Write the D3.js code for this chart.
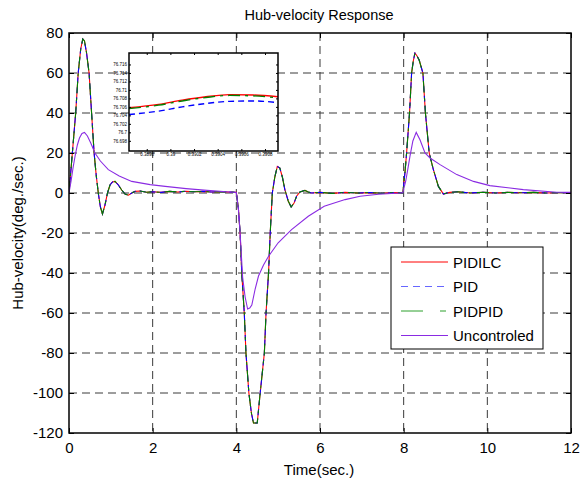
<!DOCTYPE html>
<html>
<head>
<meta charset="utf-8">
<script src="https://cdn.jsdelivr.net/npm/d3@7"></script>
<style>
  body { margin: 0; background: #fff; }
  svg { font-family: "Liberation Sans", Arial, sans-serif; }
  .tick text { font-size: 15px; fill: #000; }
  .inset .tick text { font-size: 4.5px; }
</style>
</head>
<body>
<div class="chart"></div>
<script>
// --- Data ---
const xTicks = [0, 2, 4, 6, 8, 10, 12];
const yTicks = [80, 60, 40, 20, 0, -20, -40, -60, -80, -100, -120];

// controlled responses (PIDILC, PID, PIDPID overlap in the main view)
const ctlT = [0, 0.04, 0.08, 0.12, 0.16, 0.22, 0.28, 0.33, 0.37, 0.42, 0.48, 0.54, 0.60, 0.65, 0.70, 0.75, 0.80, 0.86, 0.92, 0.98,
  1.04, 1.10, 1.18, 1.26, 1.34, 1.42, 1.50, 1.58, 1.70, 1.85, 2.0, 2.2, 2.4, 2.6, 2.8, 3.0, 3.2, 3.4, 3.6, 3.8,
  4.0, 4.05, 4.09, 4.13, 4.19, 4.23, 4.30, 4.36, 4.41, 4.50, 4.57, 4.62, 4.67, 4.71, 4.77, 4.81, 4.86, 4.92, 4.98, 5.04,
  5.10, 5.16, 5.24, 5.31, 5.38, 5.44, 5.52, 5.64, 5.72, 5.8, 6.0, 6.3, 6.6, 6.9, 7.2, 7.5, 7.8, 7.98, 8.03, 8.07,
  8.14, 8.19, 8.23, 8.27, 8.32, 8.37, 8.46, 8.52, 8.61, 8.71, 8.83, 8.95, 9.1, 9.3, 9.6, 9.9, 10.2, 10.5, 10.8, 11.1,
  11.4, 11.7, 12];
const pidilcV = [0, 10, 20, 30, 40, 60, 72, 77, 76, 70, 60, 40, 20, 9, 0, -7, -10.5, -6, 0, 4,
  5.5, 5.8, 4, 1.5, -0.5, -1.1, 0, 0.8, 1, 0.4, 0.6, 0.3, 0.8, 0.5, 0.9, 0.6, 0.8, 0.5, 0.7, 0.5,
  0.3, -8, -20, -40, -60, -80, -100, -110, -115, -115, -100, -90, -80, -60, -40, -20, 0, 8, 13.3, 12.5,
  8, 1.7, -4, -7, -5, -1.6, 0.5, 1.3, 0.5, 0, 0.3, -0.2, 0.3, 0, 0.2, -0.1, 0.2, 0, 10, 20,
  40, 60, 66, 70, 68.5, 66.5, 60, 40, 20, 11.7, 3.3, -0.5, 0.3, 0.6, 0, 0.4, 0, 0.3, 0.1, 0.3,
  0, 0.2, 0.1];
const pidV = pidilcV;
const pidpidV = pidilcV;

const uncT = [0, 0.05, 0.10, 0.15, 0.20, 0.25, 0.31, 0.37, 0.44, 0.52, 0.62, 0.75, 0.94, 1.2, 1.5, 1.94, 2.3, 2.8, 3.3, 3.92,
  4.0, 4.05, 4.09, 4.15, 4.21, 4.27, 4.32, 4.37, 4.45, 4.53, 4.65, 4.77, 5.0, 5.32, 5.72, 6.1, 6.6, 6.96, 7.4, 7.91,
  7.98, 8.05, 8.10, 8.15, 8.22, 8.30, 8.39, 8.51, 8.63, 8.87, 9.27, 9.67, 10.06, 10.86, 11.66, 12];
const uncV = [0, 6, 13, 19, 24, 27.5, 29.8, 30.3, 28.5, 25, 20, 16, 11.7, 8.5, 5.8, 4.2, 3.3, 2.2, 1.3, 0.4,
  0.3, -8, -20, -42, -52, -58, -57.5, -56, -48, -41.5, -36, -31.6, -24.9, -18.3, -11.6, -6.6, -3.3, -1.6, -0.6, 0,
  0.2, 6, 12, 18.3, 26, 30.3, 26.6, 20, 17.5, 14.2, 9.2, 5.8, 3.7, 1.7, 0.4, 0.3];

// zoomed inset near the first peak
const insetT = [0.38965, 0.3899, 0.3901, 0.3903, 0.3905, 0.3907, 0.39091];
const insetPidilc = [76.7058, 76.7066, 76.7076, 76.7084, 76.7089, 76.7088, 76.7084];
const insetPid = [76.7042, 76.7050, 76.7060, 76.7068, 76.7073, 76.7074, 76.7070];
const insetPidpid = [76.7056, 76.7064, 76.7074, 76.7082, 76.7087, 76.7086, 76.7081];
const insetXTicks = [0.3898, 0.39, 0.3902, 0.3904, 0.3906, 0.3908];
const insetYTicks = [76.716, 76.714, 76.712, 76.71, 76.708, 76.706, 76.704, 76.702, 76.7, 76.698];

const seriesNames = ["PIDILC", "PID", "PIDPID", "Uncontroled"];

// --- Config ---
const width = 580, height = 484;
const margin = { top: 33, right: 9, bottom: 50, left: 69 };
const color = { PIDILC: "#ff0000", PID: "#0000ff", PIDPID: "#008000", Uncontroled: "#8a2be2" };
const dash = { PIDILC: null, PID: "6,4", PIDPID: "12,5,3,5", Uncontroled: null };
const plain = d => String(d); // hyphen minus like the original

const svg = d3.select(".chart").append("svg")
  .attr("width", width).attr("height", height);

const x = d3.scaleLinear().domain([0, 12]).range([margin.left, width - margin.right]);
const y = d3.scaleLinear().domain([-120, 80]).range([height - margin.bottom - 1, margin.top]);

svg.append("defs").append("clipPath").attr("id", "plotClip")
  .append("rect")
  .attr("x", x(0)).attr("y", y(80))
  .attr("width", x(12) - x(0)).attr("height", y(-120) - y(80));

// --- Grid ---
const grid = svg.append("g").attr("class", "grid")
  .attr("stroke", "#3a3a3a").attr("stroke-width", 1).attr("stroke-dasharray", "8,5");
grid.selectAll(".vg").data(xTicks.slice(1, -1)).join("line")
  .attr("x1", d => x(d)).attr("x2", d => x(d))
  .attr("y1", y(80)).attr("y2", y(-120));
grid.selectAll(".hg").data(yTicks.slice(1, -1)).join("line")
  .attr("y1", d => y(d)).attr("y2", d => y(d))
  .attr("x1", x(0)).attr("x2", x(12));

// --- Lines ---
const line = d3.line().x(d => x(d[0])).y(d => y(d[1]));
const mainSeries = [
  { name: "PIDILC", t: ctlT, v: pidilcV },
  { name: "PID", t: ctlT, v: pidV },
  { name: "PIDPID", t: ctlT, v: pidpidV },
  { name: "Uncontroled", t: uncT, v: uncV }
];
svg.append("g").attr("clip-path", "url(#plotClip)")
  .selectAll("path").data(mainSeries).join("path")
  .attr("fill", "none")
  .attr("stroke", d => color[d.name])
  .attr("stroke-width", 1.1)
  .attr("stroke-dasharray", d => dash[d.name])
  .attr("d", d => line(d.t.map((t, i) => [t, d.v[i]])));

// --- Axes (ticks inward) ---
svg.append("g").attr("transform", `translate(${x(0)},0)`)
  .call(d3.axisLeft(y).tickValues(yTicks).tickSize(-5).tickPadding(6).tickFormat(plain));
svg.append("g").attr("transform", `translate(0,${y(-120)})`)
  .call(d3.axisBottom(x).tickValues(xTicks).tickSize(-5).tickPadding(9).tickFormat(plain));
svg.append("g").attr("transform", `translate(${x(12)},0)`)
  .call(d3.axisRight(y).tickValues(yTicks).tickSize(-5).tickFormat(""));
svg.append("g").attr("transform", `translate(0,${y(80)})`)
  .call(d3.axisTop(x).tickValues(xTicks).tickSize(-5).tickFormat(""));
svg.selectAll(".domain").remove();
svg.selectAll(".tick line").attr("stroke", "#000");

svg.append("rect")
  .attr("x", x(0)).attr("y", y(80))
  .attr("width", x(12) - x(0)).attr("height", y(-120) - y(80))
  .attr("fill", "none").attr("stroke", "#000").attr("stroke-width", 1.5);

// --- Titles ---
svg.append("text").attr("x", 319).attr("y", 20).attr("text-anchor", "middle")
  .style("font-size", "14.5px").text("Hub-velocity Response");
svg.append("text").attr("x", 319).attr("y", 475).attr("text-anchor", "middle")
  .style("font-size", "15px").text("Time(sec.)");
svg.append("text").attr("transform", `translate(23,${(y(80) + y(-120)) / 2}) rotate(-90)`)
  .attr("text-anchor", "middle").style("font-size", "15px").text("Hub-velocity(deg./sec.)");

// --- Inset ---
const ix = d3.scaleLinear().domain([0.38965, 0.39091]).range([129, 278]);
const iy = d3.scaleLinear().domain([76.6956, 76.7187]).range([151, 53]);
const inset = svg.append("g").attr("class", "inset");
inset.append("rect").attr("x", 129).attr("y", 53).attr("width", 149).attr("height", 98)
  .attr("fill", "#fff");
const insetLine = d3.line().x(d => ix(d[0])).y(d => iy(d[1])).curve(d3.curveMonotoneX);
const insetSeries = [
  { name: "PIDILC", v: insetPidilc },
  { name: "PID", v: insetPid },
  { name: "PIDPID", v: insetPidpid }
];
inset.selectAll("path.il").data(insetSeries).join("path")
  .attr("class", "il")
  .attr("fill", "none")
  .attr("stroke", d => color[d.name])
  .attr("stroke-width", 1.4)
  .attr("stroke-dasharray", d => dash[d.name])
  .attr("d", d => insetLine(insetT.map((t, i) => [t, d.v[i]])));
inset.append("g").attr("transform", "translate(129,0)")
  .call(d3.axisLeft(iy).tickValues(insetYTicks).tickSize(-2).tickPadding(2).tickFormat(plain));
inset.append("g").attr("transform", "translate(0,151)")
  .call(d3.axisBottom(ix).tickValues(insetXTicks).tickSize(-2).tickPadding(2).tickFormat(plain));
inset.append("g").attr("transform", "translate(278,0)")
  .call(d3.axisRight(iy).tickValues(insetYTicks).tickSize(-2).tickFormat(""));
inset.append("g").attr("transform", "translate(0,53)")
  .call(d3.axisTop(ix).tickValues(insetXTicks).tickSize(-2).tickFormat(""));
inset.selectAll(".domain").remove();
inset.selectAll(".tick text").style("font-size", "4.5px").attr("fill", "#444");
inset.append("rect").attr("x", 129).attr("y", 53).attr("width", 149).attr("height", 98)
  .attr("fill", "none").attr("stroke", "#000").attr("stroke-width", 1.5);

// --- Legend ---
const legend = svg.append("g").attr("transform", "translate(391,247)");
legend.append("rect").attr("width", 152).attr("height", 102)
  .attr("fill", "#fff").attr("stroke", "#000").attr("stroke-width", 1);
const legendDash = { PIDILC: null, PID: "7,5", PIDPID: "22,17,6", Uncontroled: null };
const items = legend.selectAll(".item").data(seriesNames).join("g")
  .attr("transform", (d, i) => `translate(0,${15 + i * 24.5})`);
items.append("line")
  .attr("x1", 10).attr("x2", 57)
  .attr("stroke", d => d === "PIDPID" ? "#2ca02c" : d === "PID" ? "#6666ff" : color[d])
  .attr("stroke-width", 1)
  .attr("stroke-dasharray", d => legendDash[d]);
items.append("text").attr("x", 62).attr("y", 5.5)
  .style("font-size", "15px").text(d => d);
</script>
</body>
</html>
